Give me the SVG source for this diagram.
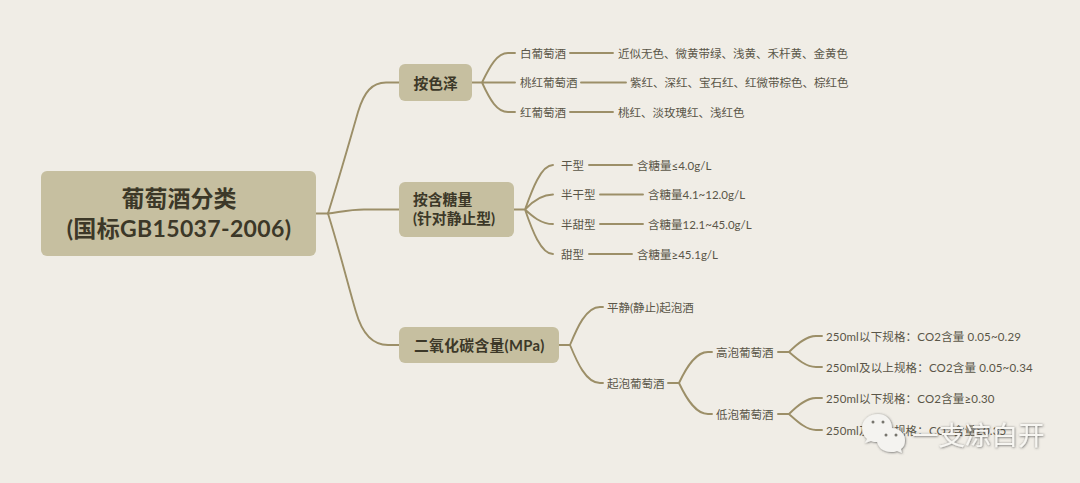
<svg xmlns="http://www.w3.org/2000/svg" width="1080" height="483" viewBox="0 0 1080 483">
<defs>
<filter id="wm" x="-10%" y="-20%" width="120%" height="140%"><feDropShadow dx="0.5" dy="0.5" stdDeviation="0.8" flood-color="#3a3a3a" flood-opacity="0.8"/></filter>
</defs>
<style>
text{font-family:"Lato","Noto Sans CJK SC",sans-serif;fill:#5a5648;font-size:11.500px;dominant-baseline:central}
.n{fill:#c6bfa0}
.t{fill:#3c3828;font-weight:700;font-size:14.800px}
.r{fill:#3c3828;font-weight:700;font-size:23px;text-anchor:middle}
.w{letter-spacing:.16px}
#connectors path{fill:none;stroke:#9c8f68;stroke-width:1.900;stroke-linecap:round}
</style>
<rect width="1080" height="483" fill="#f0ede6"/>
<g id="connectors">
<path d="M316 213.500H328C340 175 350 140 358 112C364 92 372 82.500 386 82.500H399"/>
<path d="M328 213.500C340 212 350 209.500 364 209.500H399"/>
<path d="M328 213.500C340 252 348 285 356 312C362 333 372 345 388 345H399"/>
<path d="M472 82.500H482C490 66 497 53 508 53H515M482 82.500H515M482 82.500C490 100 497 112 508 112H515"/>
<path d="M570 53H613M581 82.500H626M570 112H613"/>
<path d="M514 209.500H525C532 190 541 165 553 165M525 209.500C532 202 541 194.500 553 194.500M525 209.500C532 216 541 224 553 224M525 209.500C532 230 541 254 553 254"/>
<path d="M589 165H632M600 194.500H643M600 224H643M589 254H632"/>
<path d="M559 345H570C577 328 586 307 600 307H603M570 345C577 362 586 383 600 383H603"/>
<path d="M668 383H679C687 366 696 352 708 352H712M679 383C687 400 696 414 708 414H712"/>
<path d="M778 352H789C797 344 806 336 816 336H822M789 352C797 359 806 367 816 367H822"/>
<path d="M778 414H789C797 406 806 398 816 398H822M789 414C797 421 806 430 816 430H822"/>
</g>
<g id="root"><rect class="n" x="41" y="171" width="275" height="85" rx="6"/><text class="r" x="179" y="197.500">葡萄酒分类</text><text class="r" x="179" y="228" style="letter-spacing:.35px">(国标GB15037-2006)</text></g>
<g id="color"><rect class="n" x="399" y="64" width="73" height="37" rx="6"/><text class="t" x="413.500" y="82.500">按色泽</text></g>
<g id="sugar"><rect class="n" x="399" y="182" width="115" height="55" rx="6"/><text class="t" x="413" y="199">按含糖量</text><text class="t" x="413" y="218">(针对静止型)</text></g>
<g id="co2"><rect class="n" x="399" y="327" width="160" height="36" rx="6"/><text class="t" x="414" y="344.500" style="letter-spacing:.3px">二氧化碳含量(MPa)</text></g>
<g id="c1"><text x="520" y="53">白葡萄酒</text><text x="618" y="53">近似无色、微黄带绿、浅黄、禾杆黄、金黄色</text></g>
<g id="c2"><text x="520" y="82.500">桃红葡萄酒</text><text x="630" y="82.500">紫红、深红、宝石红、红微带棕色、棕红色</text></g>
<g id="c3"><text x="520" y="112">红葡萄酒</text><text x="618" y="112">桃红、淡玫瑰红、浅红色</text></g>
<g id="s1"><text x="561" y="165">干型</text><text x="637" y="165">含糖量≤4.0g/L</text></g>
<g id="s2"><text x="561" y="194.500">半干型</text><text x="648" y="194.500">含糖量4.1~12.0g/L</text></g>
<g id="s3"><text x="561" y="224">半甜型</text><text x="648" y="224">含糖量12.1~45.0g/L</text></g>
<g id="s4"><text x="561" y="254">甜型</text><text x="637" y="254">含糖量≥45.1g/L</text></g>
<g id="g1"><text x="607" y="307">平静(静止)起泡酒</text></g>
<g id="g2"><text x="607" y="383">起泡葡萄酒</text></g>
<g id="g3"><text x="716" y="352">高泡葡萄酒</text></g>
<g id="g4"><text x="716" y="414">低泡葡萄酒</text></g>
<g id="g5"><text class="w" x="826" y="336">250ml以下规格：CO2含量 0.05~0.29</text></g>
<g id="g6"><text class="w" x="826" y="367">250ml及以上规格：CO2含量 0.05~0.34</text></g>
<g id="g7"><text class="w" x="826" y="398">250ml以下规格：CO2含量≥0.30</text></g>
<g id="g8"><text class="w" x="826" y="430">250ml及以上规格：CO2含量≥0.35</text></g>
<g id="watermark" filter="url(#wm)">
<path d="M878 414C869 414 862 420 862 428C862 433 864 436 867 439L865 443L871 441C873 442 875 442 877 442C885 442 892 436 892 428C892 420 886 414 878 414Z" fill="#f4f3f0"/>
<path d="M891 428C883 428 877 434 877 440C877 447 883 452 891 452C893 452 895 452 897 451L902 453L901 449C904 447 905 444 905 440C905 433 899 428 891 428Z" fill="#f4f3f0"/>
<circle cx="873" cy="422" r="1.500" fill="#77756e"/><circle cx="883" cy="422" r="1.500" fill="#77756e"/>
<circle cx="886" cy="435" r="1.500" fill="#77756e"/><circle cx="896" cy="435" r="1.500" fill="#77756e"/>
<text x="912" y="435" style="fill:#f7f6f2;font-size:26.500px">一支凉白开</text>
</g>
</svg>
